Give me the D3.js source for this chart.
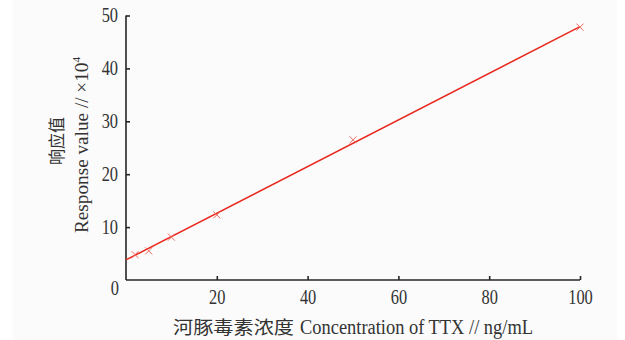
<!DOCTYPE html>
<html><head><meta charset="utf-8">
<script src="https://cdn.jsdelivr.net/npm/d3@7"></script>
<style>
html,body{margin:0;padding:0;background:#fff;}
svg{display:block;}
</style></head>
<body>
<svg id="c" width="625" height="340"></svg>
<script>
// ---- data ----
const concentrations = [2, 5, 10, 20, 50, 100];
const responses = [4.8, 5.5, 8.1, 12.3, 26.5, 47.8];
const fitIntercept = 3.8;
const fitSlope = 0.441;
const xTicks = [20, 40, 60, 80, 100];
const yTicks = [0, 10, 20, 30, 40, 50];
const xLabelCN = "河豚毒素浓度";
const xLabelEN = "Concentration of TTX // ng/mL";
const yLabelCN = "响应值";
const yLabelEN = "Response value // ×10";
const yLabelSup = "4";

const svg = d3.select("#c");
svg.append("rect").attr("x",13).attr("y",0).attr("width",604).attr("height",340).attr("fill","#fbfbfb");

const x = d3.scaleLinear().domain([0,100]).range([126,580]);
const y = d3.scaleLinear().domain([0,50]).range([280,15.5]);

const axisColor = "#262626";
const tickFont = "'Liberation Serif', 'DejaVu Serif', serif";

// x axis
const gx = svg.append("g").attr("transform",`translate(0,${y(0)})`)
  .call(d3.axisBottom(x).tickValues(xTicks).tickSizeInner(-4).tickSizeOuter(0).tickPadding(9));
// y axis
const gy = svg.append("g").attr("transform",`translate(${x(0)},0)`)
  .call(d3.axisLeft(y).tickValues(yTicks).tickSizeInner(-4).tickSizeOuter(0).tickPadding(7));

[gx,gy].forEach(g=>{
  g.select(".domain").attr("stroke",axisColor).attr("stroke-width",1.6);
  g.selectAll(".tick line").attr("stroke",axisColor).attr("stroke-width",1.6);
  g.selectAll(".tick text").attr("fill","#333").attr("font-family",tickFont).attr("font-size",20);
});
gx.select(".domain").attr("d",`M${x(0)},0H${x(100)}`);
gy.select(".domain").attr("d",`M0,${y(0)}V${y(50)}`);
gx.selectAll(".tick text").attr("transform","scale(0.82,1)").attr("dy","0.75em");
gy.selectAll(".tick text").attr("transform","scale(0.82,1)").attr("x",-8/0.82);
gy.selectAll(".tick").filter(d=>d===0).select("text").attr("dy","0.72em").attr("x",-7/0.82);
gy.selectAll(".tick").filter(d=>d===0).select("line").remove();

// fit line
const red = "#e8281e";
svg.append("line")
  .attr("x1",x(0)).attr("y1",y(fitIntercept))
  .attr("x2",x(100)).attr("y2",y(fitIntercept+fitSlope*100))
  .attr("stroke",red).attr("stroke-width",1.5);

// markers
const pts = concentrations.map((c,i)=>[c,responses[i]]);
svg.append("g").selectAll("path").data(pts).join("path")
  .attr("d",d=>{const cx=x(d[0]),cy=y(d[1]),s=3.5;return `M${cx-s},${cy-s}L${cx+s},${cy+s}M${cx-s},${cy+s}L${cx+s},${cy-s}`;})
  .attr("stroke","#ef6a60").attr("stroke-width",1).attr("fill","none");

// x label
const cjk = "'Noto Sans CJK SC', 'Noto Sans CJK JP', sans-serif";
svg.append("text").attr("x",173).attr("y",334)
  .attr("font-family",cjk).attr("font-size",18).attr("fill","#333")
  .attr("textLength",121).attr("lengthAdjust","spacingAndGlyphs").text(xLabelCN);
svg.append("text").attr("x",300).attr("y",334)
  .attr("font-family",tickFont).attr("font-size",20).attr("fill","#333")
  .attr("textLength",233).attr("lengthAdjust","spacingAndGlyphs").text(xLabelEN);

// y labels
svg.append("text").attr("transform","translate(63,141) rotate(-90)")
  .attr("text-anchor","middle")
  .attr("font-family",cjk).attr("font-size",17).attr("fill","#333")
  .attr("textLength",48).attr("lengthAdjust","spacingAndGlyphs").text(yLabelCN);
const ye = svg.append("text").attr("transform","translate(88,145) rotate(-90)")
  .attr("text-anchor","middle")
  .attr("font-family",tickFont).attr("font-size",19).attr("fill","#333")
  .attr("textLength",176).attr("lengthAdjust","spacingAndGlyphs");
ye.append("tspan").text(yLabelEN);
ye.append("tspan").attr("dy",-8).attr("font-size",11).text(yLabelSup);
</script>
</body></html>
